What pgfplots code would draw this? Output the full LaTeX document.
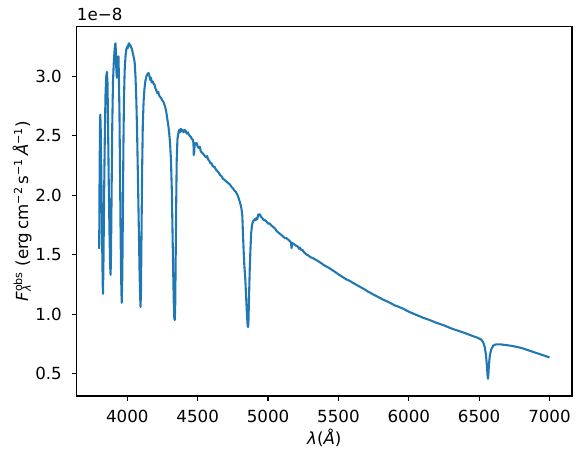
\documentclass[border=0pt]{standalone}
\usepackage{fontspec}
\setmainfont{DejaVu Sans}
\usepackage{pgfplots}
\pgfplotsset{compat=1.18}
\definecolor{c0}{HTML}{1F77B4}
\begin{document}
\fontsize{12}{14.4}\selectfont
\begin{tikzpicture}
\begin{axis}[
  scale only axis, width=356.6pt, height=265.9pt,
  xmin=3640, xmax=7160, ymin=0.31, ymax=3.42,
  xtick={4000,4500,5000,5500,6000,6500,7000},
  ytick={0.5,1.0,1.5,2.0,2.5,3.0},
  tick align=outside, tick pos=left, major tick length=3.5pt,
  every tick/.style={black, line width=0.8pt},
  axis line style={line width=0.8pt},
  /pgf/number format/assume math mode=true,
  xticklabel style={anchor=base, inner sep=0pt, yshift=-15.3pt, /pgf/number format/set thousands separator={}},
  yticklabel style={anchor=east, inner sep=0pt, xshift=-7pt, /pgf/number format/.cd, fixed, fixed zerofill, precision=1},
  xlabel={\textit{λ}(\textit{Å})},
  ylabel={\textit{F}\makebox[0pt][l]{\textsubscript{\textit{λ}}}\textsuperscript{obs} (erg\,cm\textsuperscript{−2}\,s\textsuperscript{−1}\,\textit{Å}\textsuperscript{−1})},
  xlabel style={at={(axis description cs:0.5,0)}, anchor=base, yshift=-35pt, inner sep=0pt},
  ylabel style={at={(axis description cs:-0.098,0.5)}, anchor=base, inner sep=0pt},
]
\addplot[c0, line width=1.5pt, line join=round] table {
x y
3800 1.55
3803 2.2
3806 2.6
3808 2.68
3811 2.55
3815 2.2
3820 1.7
3825 1.25
3827 1.17
3830 1.4
3835 2.0
3840 2.5
3845 2.85
3850 3.0
3855 3.04
3859 2.95
3863 2.6
3868 2.1
3873 1.7
3878 1.4
3881 1.33
3884 1.5
3888 2.0
3893 2.6
3898 2.95
3903 3.1
3908 3.2
3913 3.27
3916 3.28
3919 3.2
3922 3.05
3926 2.99
3930 3.1
3934 3.16
3937 3.17
3940 3.0
3944 2.7
3948 2.2
3952 1.7
3956 1.3
3960 1.095
3964 1.3
3968 1.8
3972 2.4
3976 2.8
3981 3.05
3987 3.17
3993 3.23
3998 3.25
4003 3.24
4008 3.27
4011 3.28
4015 3.26
4020 3.27
4025 3.25
4030 3.24
4035 3.22
4040 3.19
4046 3.16
4052 3.12
4058 3.0
4064 2.8
4070 2.5
4076 2.1
4082 1.7
4087 1.35
4091 1.15
4094 1.06
4097 1.2
4101 1.7
4105 2.2
4110 2.6
4116 2.8
4122 2.9
4128 2.96
4135 3.0
4143 3.02
4151 3.03
4158 3.0
4163 2.97
4168 2.99
4173 2.95
4180 2.96
4186 2.94
4194 2.93
4200 2.9
4207 2.88
4213 2.86
4220 2.87
4226 2.84
4232 2.83
4240 2.82
4247 2.80
4255 2.79
4262 2.77
4270 2.74
4277 2.70
4283 2.65
4290 2.6
4297 2.53
4303 2.45
4310 2.3
4316 2.05
4321 1.7
4326 1.35
4330 1.1
4334 0.96
4337 0.95
4340 1.05
4343 1.4
4347 1.9
4351 2.3
4356 2.47
4362 2.52
4368 2.55
4374 2.53
4380 2.56
4387 2.54
4393 2.55
4400 2.53
4408 2.55
4415 2.54
4422 2.52
4430 2.53
4437 2.51
4444 2.50
4452 2.49
4460 2.47
4466 2.47
4470 2.44
4472 2.34
4475 2.36
4479 2.44
4485 2.43
4492 2.44
4500 2.41
4507 2.40
4515 2.41
4522 2.37
4530 2.36
4538 2.35
4545 2.34
4552 2.33
4560 2.32
4567 2.33
4575 2.30
4583 2.29
4590 2.27
4598 2.27
4605 2.25
4613 2.24
4620 2.24
4628 2.22
4635 2.21
4643 2.20
4650 2.19
4660 2.17
4670 2.16
4680 2.14
4690 2.13
4700 2.12
4710 2.11
4720 2.10
4730 2.09
4740 2.07
4750 2.06
4760 2.04
4770 2.03
4780 2.01
4790 1.98
4798 1.95
4805 1.92
4812 1.88
4817 1.83
4821 1.70
4826 1.55
4831 1.42
4838 1.3
4844 1.15
4850 1.0
4855 0.90
4858 0.89
4861 0.95
4865 1.15
4870 1.38
4875 1.55
4880 1.68
4886 1.75
4893 1.78
4900 1.79
4906 1.80
4912 1.79
4918 1.81
4924 1.80
4930 1.84
4936 1.83
4942 1.84
4950 1.82
4957 1.81
4964 1.80
4972 1.79
4980 1.79
4988 1.78
4995 1.77
5003 1.76
5011 1.765
5020 1.75
5030 1.74
5040 1.73
5050 1.72
5060 1.70
5070 1.69
5080 1.68
5090 1.67
5100 1.66
5110 1.65
5120 1.64
5130 1.64
5140 1.63
5150 1.62
5162 1.605
5167 1.555
5172 1.60
5180 1.59
5190 1.585
5200 1.575
5210 1.57
5220 1.55
5227 1.56
5235 1.54
5245 1.54
5255 1.52
5265 1.51
5275 1.50
5285 1.495
5300 1.48
5320 1.47
5335 1.46
5350 1.45
5370 1.435
5400 1.41
5437 1.386
5470 1.36
5500 1.335
5532 1.31
5560 1.29
5580 1.28
5600 1.265
5630 1.245
5660 1.225
5690 1.205
5709 1.19
5740 1.17
5780 1.145
5820 1.12
5850 1.105
5890 1.08
5895 1.075
5920 1.065
5960 1.045
6000 1.02
6050 0.995
6100 0.97
6148 0.95
6200 0.925
6250 0.905
6300 0.88
6349 0.86
6400 0.84
6455 0.815
6490 0.80
6515 0.785
6530 0.76
6540 0.72
6548 0.66
6555 0.57
6560 0.48
6563 0.455
6566 0.50
6570 0.58
6576 0.65
6585 0.70
6600 0.735
6620 0.745
6650 0.745
6700 0.738
6750 0.728
6800 0.715
6850 0.695
6900 0.675
6950 0.655
7000 0.635
};
\end{axis}
\node[anchor=base west, inner sep=0pt] at ([yshift=4.1pt]current axis.north west) {1e−8};
\pgfresetboundingbox
\path ([xshift=-55.2pt, yshift=-44.6pt]current axis.south west) rectangle ([xshift=7.2pt, yshift=19.2pt]current axis.north east);
\end{tikzpicture}
\end{document}
